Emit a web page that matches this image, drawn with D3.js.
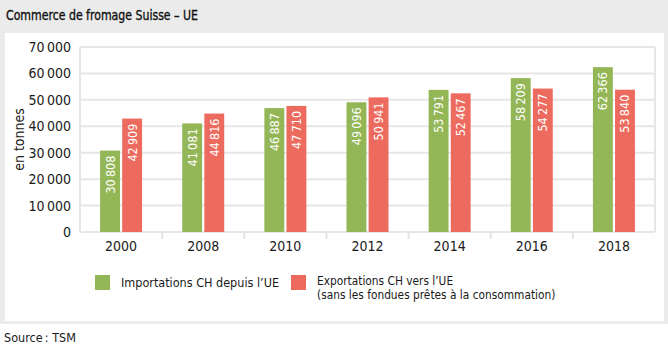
<!DOCTYPE html>
<html>
<head>
<meta charset="utf-8">
<script src="https://cdn.jsdelivr.net/npm/d3@7"></script>
<style>
  body { margin: 0; background: #fff; }
  svg text { font-family: "DejaVu Sans Condensed", "Liberation Sans Narrow", sans-serif; }
</style>
</head>
<body>
<svg id="chart"></svg>
<script>
const years = ['2000', '2008', '2010', '2012', '2014', '2016', '2018'];
const imports = [30808, 41081, 46887, 49096, 53791, 58209, 62366];
const exports = [42909, 44816, 47710, 50941, 52467, 54277, 53840];
const yTicks = [0, 10000, 20000, 30000, 40000, 50000, 60000, 70000];
const seriesNames = ['Importations CH depuis l\u2019UE', 'Exportations CH vers l\u2019UE'];
const seriesNote = '(sans les fondues pr\u00eates \u00e0 la consommation)';

const W = 668, H = 351;
const colors = ['#93b656', '#ed6b5e'];
const fmt = (v) => d3.format(',')(v).replace(/,/g, '\u202f');

const svg = d3.select('#chart').attr('width', W).attr('height', H);

// grey frame with white panel
svg.append('rect').attr('x', 0).attr('y', 0).attr('width', W).attr('height', 324).attr('fill', '#ebebeb');
svg.append('rect').attr('x', 5).attr('y', 33).attr('width', 659).attr('height', 288).attr('fill', '#fff');

// title, squeezed a bit to look like the condensed original
svg.append('text')
    .attr('x', 6).attr('y', 19.5)
    .attr('font-size', 14.5).attr('fill', '#111')
    .attr('stroke', '#111').attr('stroke-width', 0.35)
    .attr('textLength', 192).attr('lengthAdjust', 'spacingAndGlyphs')
    .text('Commerce de fromage Suisse \u2013 UE');

const margin = { left: 80, right: 13, top: 47, bottom: 119 };
const x = d3.scaleBand().domain(years).range([margin.left, W - margin.right]);
const y = d3.scaleLinear().domain([0, 70000]).range([H - margin.bottom, margin.top]);

// gridlines
svg.append('g').selectAll('line').data(yTicks).join('line')
    .attr('x1', margin.left).attr('x2', W - margin.right)
    .attr('y1', (d) => y(d)).attr('y2', (d) => y(d))
    .attr('stroke', '#e6e6e6').attr('stroke-width', 2);
svg.append('line')
    .attr('x1', margin.left).attr('x2', margin.left)
    .attr('y1', y(70000)).attr('y2', y(0))
    .attr('stroke', '#e6e6e6').attr('stroke-width', 2);
svg.append('line')
    .attr('x1', W - margin.right).attr('x2', W - margin.right)
    .attr('y1', y(70000)).attr('y2', y(0))
    .attr('stroke', '#e6e6e6').attr('stroke-width', 2);

// y axis
const yAxis = svg.append('g')
    .attr('transform', `translate(${margin.left},0)`)
    .call(d3.axisLeft(y).tickValues(yTicks).tickSize(0).tickPadding(9).tickFormat(fmt));
yAxis.select('.domain').remove();
yAxis.selectAll('text').attr('font-size', 14).attr('fill', '#1a1a1a');

svg.append('text')
    .attr('transform', `translate(24,${y(35000)}) rotate(-90)`)
    .attr('text-anchor', 'middle')
    .attr('font-size', 14).attr('fill', '#1a1a1a')
    .text('en tonnes');

// x axis: small separators between categories
const seps = years.slice(1).map((d) => x(d));
svg.append('g').selectAll('line').data(seps).join('line')
    .attr('x1', (d) => d).attr('x2', (d) => d)
    .attr('y1', y(0)).attr('y2', y(0) + 7)
    .attr('stroke', '#e3e3e3').attr('stroke-width', 2);
svg.append('g').selectAll('text').data(years).join('text')
    .attr('x', (d) => x(d) + x.bandwidth() / 2)
    .attr('y', y(0) + 19)
    .attr('text-anchor', 'middle')
    .attr('font-size', 14).attr('fill', '#1a1a1a')
    .text((d) => d);

// bars
const inner = d3.scaleBand().domain([0, 1]).range([0, 42]).paddingInner(0.1);
const offset = (x.bandwidth() - 42) / 2;
const rows = years.flatMap((yr, i) => [
    { yr, s: 0, v: imports[i] },
    { yr, s: 1, v: exports[i] },
]);

svg.append('g').selectAll('rect').data(rows).join('rect')
    .attr('x', (d) => x(d.yr) + offset + inner(d.s))
    .attr('y', (d) => y(d.v))
    .attr('width', inner.bandwidth())
    .attr('height', (d) => y(0) - y(d.v))
    .attr('fill', (d) => colors[d.s]);

svg.append('g').selectAll('text').data(rows).join('text')
    .attr('transform', (d) => `translate(${x(d.yr) + offset + inner(d.s) + inner.bandwidth() / 2 + 4.5},${y(d.v) + 5}) rotate(-90)`)
    .attr('text-anchor', 'end')
    .attr('font-size', 12.5).attr('fill', '#fff')
    .text((d) => fmt(d.v));

// legend
const legend = svg.append('g');
[95, 291].forEach((lx, i) => {
    legend.append('rect').attr('x', lx).attr('y', 275).attr('width', 15).attr('height', 15).attr('fill', colors[i]);
});
legend.append('text').attr('x', 121).attr('y', 287)
    .attr('font-size', 12.5).attr('fill', '#1a1a1a').text(seriesNames[0]);
legend.append('text').attr('x', 317).attr('y', 285.4)
    .attr('font-size', 11.8).attr('fill', '#1a1a1a').text(seriesNames[1]);
legend.append('text').attr('x', 317).attr('y', 299.4)
    .attr('font-size', 11.8).attr('fill', '#1a1a1a').text(seriesNote);

svg.append('text')
    .attr('x', 4).attr('y', 342)
    .attr('font-size', 12.5).attr('fill', '#1a1a1a')
    .text('Source\u202f: TSM');
</script>
</body>
</html>
